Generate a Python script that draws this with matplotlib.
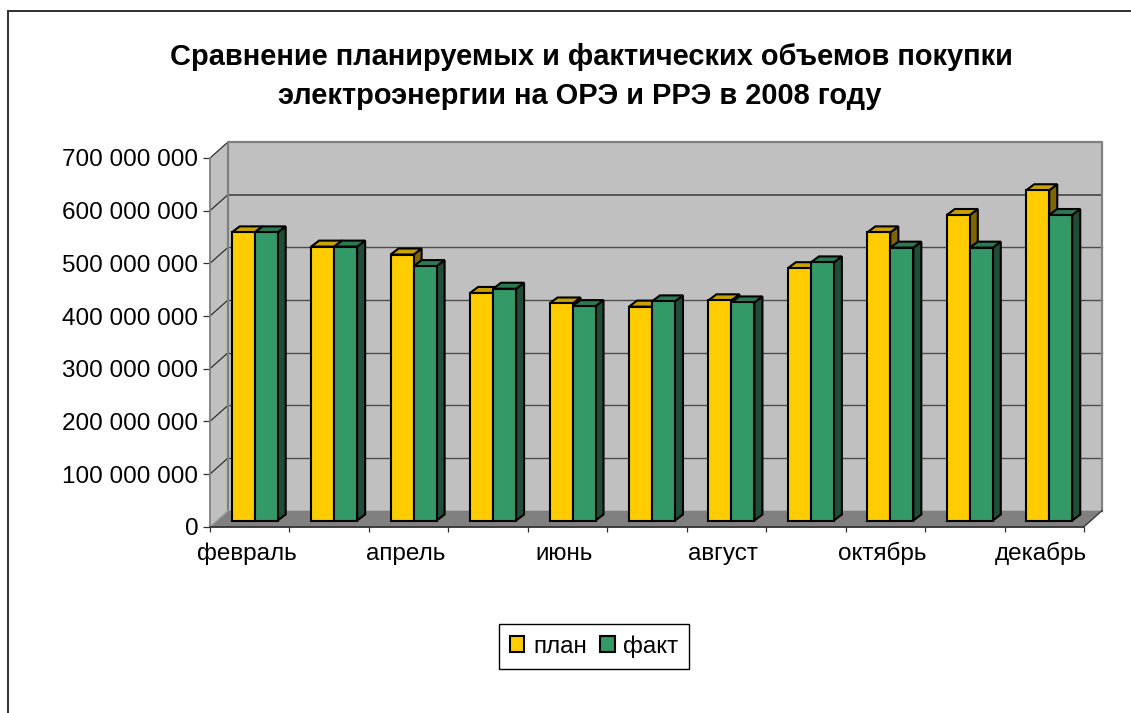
#! /usr/bin/env python3
import numpy as np
import matplotlib
matplotlib.use('Agg')
import matplotlib.pyplot as plt
from matplotlib.lines import Line2D
from matplotlib.patches import Polygon, Patch
from matplotlib.ticker import FuncFormatter

months = ['февраль', 'март', 'апрель', 'май', 'июнь', 'июль', 'август',
          'сентябрь', 'октябрь', 'ноябрь', 'декабрь']
plan = [547e6, 520e6, 505e6, 432e6, 412e6, 406e6, 418e6, 479e6, 547e6, 580e6, 627e6]
fact = [547e6, 520e6, 483e6, 440e6, 407e6, 416e6, 414e6, 490e6, 518e6, 518e6, 580e6]
title = 'Сравнение планируемых и фактических объемов покупки\nэлектроэнергии на ОРЭ и РРЭ в 2008 году'

W, H = 1131, 713
plt.rcParams['font.family'] = ['Liberation Sans', 'DejaVu Sans']

fig = plt.figure(figsize=(W/100, H/100), dpi=100)

# chart border, only top and left fall inside the image
fig.add_artist(Line2D([7.5/W, 7.5/W, 1], [0, 1-10.7/H, 1-10.7/H], transform=fig.transFigure,
                      color='#303030', linewidth=1.4, solid_joinstyle='miter'))

# axes is the front plane of the 3d box
x0, x1, ytop, ybot = 210, 1084, 158, 526.7
ax = fig.add_axes([x0/W, 1-ybot/H, (x1-x0)/W, (ybot-ytop)/H])
n = len(months)
ymax = 700e6
ax.set_xlim(0, n)
ax.set_ylim(0, ymax)

# pixel depths to data units
px_x = n/(x1-x0)
px_y = ymax/(ybot-ytop)
wall_dx, wall_dy = 18*px_x, 16*px_y
bar_dy = 6.2*px_y
side_dx, side_dy = 8*px_x, 6*px_y
bar_w = 23*px_x
bar_start = 21.7*px_x

for s in ax.spines.values():
    s.set_visible(False)
ax.patch.set_visible(False)

def poly(pts, face, edge='none', lw=0, z=1):
    ax.add_patch(Polygon(pts, closed=True, facecolor=face, edgecolor=edge, linewidth=lw,
                         zorder=z, clip_on=False, joinstyle='miter'))

# walls and floor
poly([(0, 0), (wall_dx, wall_dy), (wall_dx, ymax+wall_dy), (0, ymax)], '#c0c0c0', z=1)
poly([(wall_dx, wall_dy), (n+wall_dx, wall_dy), (n+wall_dx, ymax+wall_dy), (wall_dx, ymax+wall_dy)], '#c0c0c0', z=1)
poly([(0, 0), (n, 0), (n+wall_dx, wall_dy), (wall_dx, wall_dy)], '#808080', z=1)

ticks = np.arange(0, ymax+1, 100e6)
for t in ticks[1:-1]:
    lw = 1.3 if t == 600e6 else 1.0
    ax.plot([wall_dx, n+wall_dx], [t+wall_dy, t+wall_dy], color='#4d4d4d', lw=lw, zorder=2, clip_on=False)
for t in ticks[1:]:
    ax.plot([0, wall_dx], [t, t+wall_dy], color='#303030', lw=0.9, zorder=2, clip_on=False)

# wall outline
ax.plot([wall_dx, wall_dx, n+wall_dx, n+wall_dx], [wall_dy, ymax+wall_dy, ymax+wall_dy, wall_dy],
        color='#808080', lw=1.6, zorder=2, clip_on=False)
ax.plot([0, 0], [0, ymax], color='#808080', lw=1.3, zorder=2, clip_on=False)
ax.plot([n, n+wall_dx], [0, wall_dy], color='#303030', lw=0.9, zorder=2, clip_on=False)
ax.plot([0, wall_dx], [0, wall_dy], color='#a0a0a0', lw=0.9, zorder=2, clip_on=False)

def bar3d(xa, val, front, top, side, z):
    xb = xa + bar_w
    y0 = bar_dy
    yt = val + bar_dy
    poly([(xb, y0), (xb+side_dx, y0+side_dy), (xb+side_dx, yt+side_dy), (xb, yt)], side, 'black', 1.5, z)
    poly([(xa, yt), (xb, yt), (xb+side_dx, yt+side_dy), (xa+side_dx, yt+side_dy)], top, 'black', 1.5, z)
    poly([(xa, y0), (xb, y0), (xb, yt), (xa, yt)], front, 'black', 1.5, z)

for i in range(n):
    left = i + bar_start
    bar3d(left, plan[i], '#ffcc00', '#c9a200', '#806600', 3+2*i)
    bar3d(left+bar_w, fact[i], '#339966', '#2b7a52', '#1f4d37', 4+2*i)

# front edge of the floor
ax.plot([0, n], [0, 0], color='#303030', lw=1.3, zorder=40, clip_on=False)

ax.set_yticks(ticks)
ax.yaxis.set_major_formatter(FuncFormatter(lambda v, p: f'{int(v):,}'.replace(',', ' ')))
ax.set_xticks(np.arange(n+1))
ax.set_xticklabels([])
ax.set_xticks(np.arange(n)[::2]+0.46, labels=months[::2], minor=True)
ax.tick_params(axis='x', which='major', length=3.6, width=0.9, color='#303030')
ax.tick_params(axis='x', which='minor', length=0, labelsize=17.5, pad=24)
ax.tick_params(axis='y', length=5, width=0.9, color='#303030', labelsize=17.5, pad=3.5)
# same baseline for all month names
for lab in ax.get_xticklabels(minor=True):
    lab.set_verticalalignment('baseline')

lines = title.split('\n')
fig.text(591.5/W, 1-57/H, lines[0], ha='center', va='center', fontsize=20.9, fontweight='bold')
fig.text(579.5/W, 1-96/H, lines[1], ha='center', va='center', fontsize=20.9, fontweight='bold')

handles = [Patch(facecolor='#ffcc00', edgecolor='black', linewidth=1.5, label='план'),
           Patch(facecolor='#339966', edgecolor='black', linewidth=1.5, label='факт')]
leg = fig.legend(handles=handles, loc='center', bbox_to_anchor=(594/W, 1-646.5/H), ncol=2, fontsize=17.5,
                 fancybox=False, framealpha=1, edgecolor='black', handlelength=0.6, handleheight=0.6,
                 handletextpad=0.36, columnspacing=0.55, borderpad=0.45, borderaxespad=0)
leg.get_frame().set_linewidth(1)

fig.savefig('out.png', dpi=100)
